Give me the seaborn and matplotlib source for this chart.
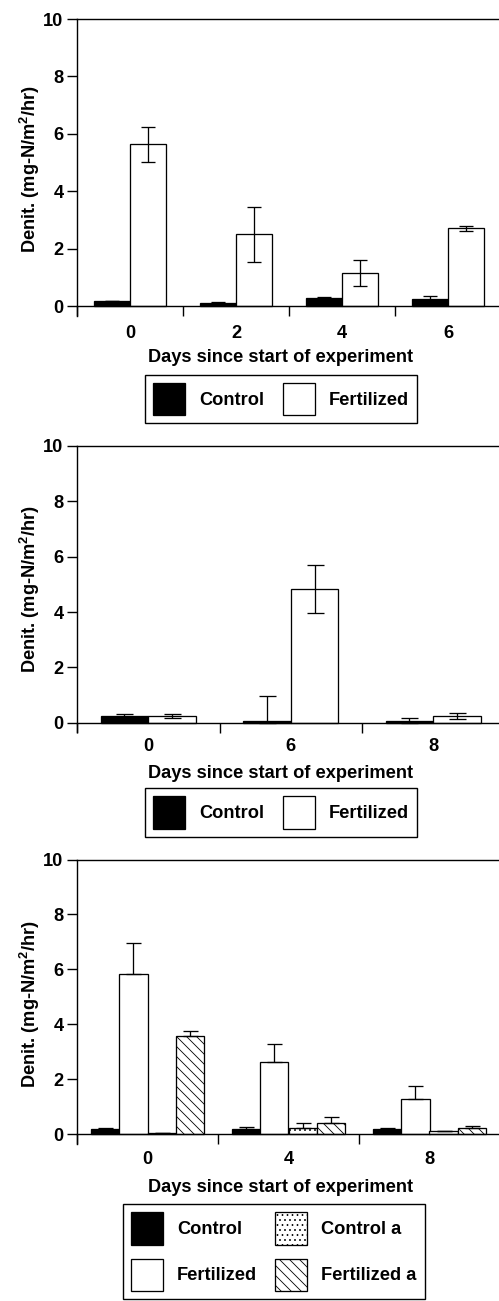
import numpy as np
import pandas as pd
import matplotlib
matplotlib.use("Agg")
import matplotlib.pyplot as plt
import seaborn as sns

# ---------------- data ----------------
p1_days = ["0", "2", "4", "6"]
p1_control = [0.17, 0.12, 0.28, 0.23]
p1_control_err = [0.01, 0.03, 0.03, 0.11]
p1_fert = [5.63, 2.50, 1.14, 2.71]
p1_fert_err = [0.60, 0.96, 0.45, 0.09]

p2_days = ["0", "6", "8"]
p2_control = [0.24, 0.06, 0.06]
p2_control_err = [0.06, 0.90, 0.12]
p2_fert = [0.24, 4.83, 0.24]
p2_fert_err = [0.06, 0.87, 0.11]

p3_days = ["0", "4", "8"]
p3_control = [0.20, 0.20, 0.20]
p3_control_err = [0.04, 0.08, 0.04]
p3_fert = [5.82, 2.62, 1.30]
p3_fert_err = [1.13, 0.67, 0.46]
p3_control_a = [0.04, 0.22, 0.12]
p3_control_a_err = [0.0, 0.18, 0.0]
p3_fert_a = [3.58, 0.40, 0.24]
p3_fert_a_err = [0.17, 0.22, 0.05]

y_ticks = [0, 2, 4, 6, 8, 10]
x_title = "Days since start of experiment"
y_title = r"Denit. (mg-N/m$^{2}$/hr)"
colors = {"Control": "black", "Fertilized": "white",
          "Control a": "white", "Fertilized a": "white"}
hatches = {"Control": "", "Fertilized": "", "Control a": "..", "Fertilized a": "\\\\"}

# ---------------- style ----------------
DPI = 60
W, H = 499, 1301
sns.set_style("ticks")
plt.rcParams["font.family"] = ["Liberation Sans", "DejaVu Sans"]
plt.rcParams["font.weight"] = "bold"
plt.rcParams["axes.labelweight"] = "bold"
plt.rcParams["mathtext.fontset"] = "custom"
plt.rcParams["mathtext.bf"] = "Liberation Sans:bold"
plt.rcParams["mathtext.rm"] = "Liberation Sans:bold"
plt.rcParams["mathtext.default"] = "bf"
plt.rcParams["hatch.linewidth"] = 1.0
plt.rcParams["hatch.color"] = "black"
for k in ["text.color", "axes.labelcolor", "xtick.color", "ytick.color",
          "axes.edgecolor"]:
    plt.rcParams[k] = "black"


def pt(px):
    return px * 72.0 / DPI


FS_PX = 18.2
FS = pt(FS_PX)

fig = plt.figure(figsize=(W / DPI, H / DPI), dpi=DPI)
fig.patch.set_facecolor("white")

HH = (32.5 / FS_PX - 0.245) / 0.65


def panel(days, series, left, width, y0, y10, bar_width, tick_pad,
          xlab_base, ylab_center, leg_xy, colspace, labelspace,
          cap_half, two_sided):
    scale = (y0 - y10) / 10.0
    bottom_px = y0 + 0.35 * scale
    ax = fig.add_axes([left / W, 1 - bottom_px / H, width / W,
                       (bottom_px - y10) / H])
    names = [s[0] for s in series]
    rows = []
    for name, vals, errs in series:
        for d, v in zip(days, vals):
            rows.append({"day": d, "treatment": name, "value": v})
    df = pd.DataFrame(rows)
    sns.barplot(data=df, x="day", y="value", hue="treatment", order=days,
                hue_order=names, palette=colors, width=bar_width,
                edgecolor="black", linewidth=pt(1.3), saturation=1,
                errorbar=None, legend=False, ax=ax, zorder=2)
    bars = list(ax.containers)
    for cont, (name, vals, errs) in zip(bars, series):
        xs = []
        for p in cont.patches:
            p.set_hatch(hatches[name])
            xs.append(p.get_x() + p.get_width() / 2)
        lower = [min(e, v) if two_sided else 0 for v, e in zip(vals, errs)]
        ax.errorbar(xs, vals, yerr=[lower, errs], fmt="none", ecolor="black",
                    elinewidth=pt(1.3), capsize=pt(cap_half),
                    capthick=pt(1.3), zorder=3)
    n = len(days)
    ax.set_xlim(-0.5, n - 0.5)
    ax.set_ylim(-0.35, 10)
    ax.set_yticks(y_ticks)
    ax.set_xticks(np.arange(n + 1) - 0.5)
    ax.set_xticklabels([])
    ax.set_xticks(np.arange(n), labels=days, minor=True)
    ax.tick_params(axis="x", which="major", length=pt(10), width=pt(1.4),
                   direction="out", labelbottom=False, color="black")
    ax.tick_params(axis="x", which="minor", length=0, pad=pt(tick_pad),
                   labelsize=FS, colors="black")
    ax.tick_params(axis="y", length=pt(10), width=pt(1.4), pad=pt(3.5),
                   labelsize=FS, direction="out", colors="black")
    for s in ["left", "bottom", "top"]:
        ax.spines[s].set_linewidth(pt(1.4))
        ax.spines[s].set_color("black")
    ax.spines["right"].set_visible(False)
    ax.spines["bottom"].set_position(("data", 0))
    ax.set_facecolor("none")
    ax.grid(False)

    ax.set_xlabel(x_title, fontsize=FS, fontweight="bold", color="black")
    ax.xaxis.set_label_coords(281 / W, 1 - xlab_base / H,
                              transform=fig.transFigure)
    ax.xaxis.label.set_va("baseline")
    ax.set_ylabel(y_title, fontsize=FS, fontweight="bold", color="black")
    ax.yaxis.set_label_coords(30 / W, 1 - ylab_center / H,
                              transform=fig.transFigure)
    ax.yaxis.label.set_va("center")
    ax.yaxis.label.set_ha("center")

    leg = ax.legend(handles=bars, labels=names, ncol=2, fontsize=FS,
                    loc="upper left",
                    bbox_to_anchor=(leg_xy[0] / W, 1 - leg_xy[1] / H),
                    bbox_transform=fig.transFigure, borderaxespad=0,
                    borderpad=8.0 / FS_PX, handlelength=32 / FS_PX,
                    handleheight=HH, handletextpad=14 / FS_PX,
                    columnspacing=colspace / FS_PX,
                    labelspacing=labelspace / FS_PX,
                    frameon=True, fancybox=False, framealpha=1,
                    edgecolor="black", facecolor="white", shadow=False)
    leg.get_frame().set_linewidth(pt(1.4))
    for t in leg.get_texts():
        t.set_fontweight("bold")
        t.set_color("black")
    return ax


panel(p1_days,
      [("Control", p1_control, p1_control_err),
       ("Fertilized", p1_fert, p1_fert_err)],
      left=77, width=424, y0=306, y10=19, bar_width=0.68, tick_pad=19,
      xlab_base=362, ylab_center=169, leg_xy=(145, 375), colspace=19,
      labelspace=15, cap_half=7, two_sided=True)

panel(p2_days,
      [("Control", p2_control, p2_control_err),
       ("Fertilized", p2_fert, p2_fert_err)],
      left=77, width=427.5, y0=722.7, y10=446, bar_width=0.667, tick_pad=15.5,
      xlab_base=778, ylab_center=589, leg_xy=(145, 788), colspace=19,
      labelspace=15, cap_half=8.5, two_sided=True)

panel(p3_days,
      [("Control", p3_control, p3_control_err),
       ("Fertilized", p3_fert, p3_fert_err),
       ("Control a", p3_control_a, p3_control_a_err),
       ("Fertilized a", p3_fert_a, p3_fert_a_err)],
      left=77, width=423, y0=1134.3, y10=859.5, bar_width=0.8, tick_pad=16.5,
      xlab_base=1192, ylab_center=1003.5, leg_xy=(123, 1204), colspace=18,
      labelspace=14, cap_half=7.5, two_sided=False)

fig.savefig("out.png", dpi=DPI, facecolor="white")
